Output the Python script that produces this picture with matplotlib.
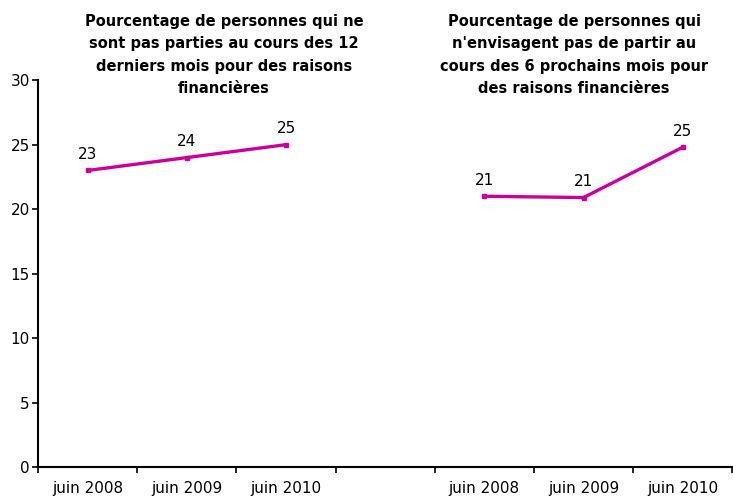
import matplotlib
matplotlib.use("Agg")
import matplotlib.pyplot as plt
import numpy as np

# categories (blank slot separates the two series)
labels = ["juin 2008", "juin 2009", "juin 2010", "", "juin 2008", "juin 2009", "juin 2010"]
serie1 = [23.0, 24.0, 25.0]
serie2 = [21.0, 20.9, 24.8]
lab1 = ["23", "24", "25"]
lab2 = ["21", "21", "25"]
title1 = "Pourcentage de personnes qui ne\nsont pas parties au cours des 12\nderniers mois pour des raisons\nfinancières"
title2 = "Pourcentage de personnes qui\nn'envisagent pas de partir au\ncours des 6 prochains mois pour\ndes raisons financières"

col = "#CC0099"

fig = plt.figure(figsize=(7.33, 4.98), dpi=100)
ax = fig.add_axes([0.052, 0.062, 0.947, 0.777])

x1 = np.arange(3)
x2 = np.arange(4, 7)
ax.plot(x1, serie1, color=col, lw=2.4, marker="s", ms=3, solid_capstyle="butt")
ax.plot(x2, serie2, color=col, lw=2.4, marker="s", ms=3, solid_capstyle="butt")

for x, y, t in zip(x1, serie1, lab1):
    ax.annotate(t, (x, y), xytext=(0, 6), textcoords="offset points",
                ha="center", va="bottom", fontsize=11)
for x, y, t in zip(x2, serie2, lab2):
    ax.annotate(t, (x, y), xytext=(0, 6), textcoords="offset points",
                ha="center", va="bottom", fontsize=11)

ax.set_xlim(-0.5, 6.5)
ax.set_ylim(0, 30)
ax.set_yticks(np.arange(0, 31, 5))
ax.set_xticks(np.arange(-0.5, 7, 1))
ax.set_xticklabels([])
ax.set_xticks(np.arange(7), minor=True)
ax.set_xticklabels(labels, minor=True)
ax.tick_params(axis="x", which="minor", length=0, pad=10, labelsize=11)
ax.tick_params(axis="x", which="major", length=4, width=1.2, direction="out")
ax.tick_params(axis="y", length=4, width=1.2, labelsize=11, pad=2)

for s in ["top", "right"]:
    ax.spines[s].set_visible(False)
for s in ["left", "bottom"]:
    ax.spines[s].set_linewidth(1.5)

fig.text(224 / 733, 1 - 14 / 498, title1, ha="center", va="top",
         fontsize=10.5, fontweight="bold", linespacing=1.62)
fig.text(574 / 733, 1 - 14 / 498, title2, ha="center", va="top",
         fontsize=10.5, fontweight="bold", linespacing=1.62)

fig.savefig("out.png", dpi=100)
